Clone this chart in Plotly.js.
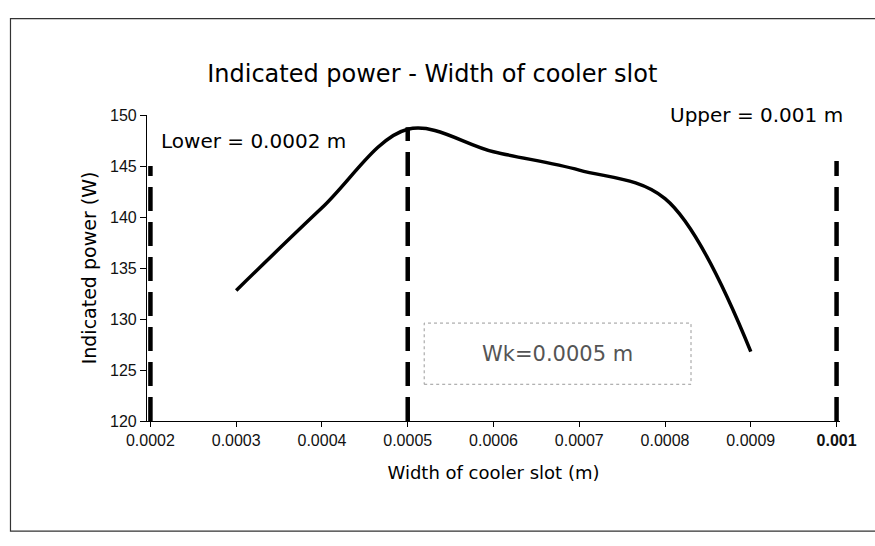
<!DOCTYPE html>
<html>
<head>
<meta charset="utf-8">
<script src="https://cdn.plot.ly/plotly-3.0.1.min.js"></script>
<style>
  html, body { margin: 0; padding: 0; background: #ffffff; }
  #chart { width: 875px; height: 546px; }
</style>
</head>
<body>
<div id="chart"></div>
<script>
// ---- data ----
const slotWidth = [0.0003, 0.0004, 0.0005, 0.0006, 0.0007, 0.0008, 0.0009];
const indicatedPower = [132.8, 140.9, 148.6, 146.4, 144.6, 141.8, 126.8];

const lowerX = [0.0002, 0.0002];
const lowerY = [120, 145];
const wkX = [0.0005, 0.0005];
const wkY = [120, 148.8];
const upperX = [0.001, 0.001];
const upperY = [120, 145.5];

const xTickVals = [0.0002, 0.0003, 0.0004, 0.0005, 0.0006, 0.0007, 0.0008, 0.0009, 0.001];
const xTickText = ["0.0002", "0.0003", "0.0004", "0.0005", "0.0006", "0.0007", "0.0008", "0.0009", "<b>0.001</b>"];
const yTickVals = [120, 125, 130, 135, 140, 145, 150];

const titleText = "Indicated power - Width of cooler slot";
const xTitle = "Width of cooler slot (m)";
const yTitle = "Indicated power (W)";
const lowerLabel = "Lower = 0.0002 m";
const upperLabel = "Upper = 0.001 m";
const wkLabel = "Wk=0.0005 m";

// ---- chart ----
const dashLine = {color: "#000000", width: 4.5, dash: "24px,11px"};

const traces = [
  {x: slotWidth, y: indicatedPower, type: "scatter", mode: "lines",
   line: {color: "#000000", width: 3.5, shape: "spline", smoothing: 1.0},
   showlegend: false, hoverinfo: "x+y"},
  {x: lowerX, y: lowerY, type: "scatter", mode: "lines", line: dashLine, showlegend: false},
  {x: wkX, y: wkY, type: "scatter", mode: "lines", line: dashLine, showlegend: false},
  {x: upperX, y: upperY, type: "scatter", mode: "lines", line: dashLine, showlegend: false}
];

const TF = "DejaVu Sans, sans-serif";
const NF = "Liberation Sans, Arial, sans-serif";

const layout = {
  width: 875, height: 546,
  paper_bgcolor: "#ffffff", plot_bgcolor: "#ffffff",
  margin: {l: 147, r: 35, t: 115, b: 125, pad: 0},
  showlegend: false,
  title: {text: titleText, font: {family: TF, size: 24, color: "#000000"},
          x: 0.494, xref: "container", xanchor: "center", y: 0.866, yref: "container", yanchor: "middle"},
  xaxis: {
    range: [0.000196, 0.001004], tickmode: "array", tickvals: xTickVals, ticktext: xTickText,
    showgrid: false, zeroline: false, showline: true, linecolor: "#000000", linewidth: 1.2,
    ticks: "outside", ticklen: 5, tickcolor: "#000000", tickwidth: 1,
    tickfont: {family: NF, size: 16, color: "#111111"},
    title: {text: xTitle, font: {family: TF, size: 18, color: "#000000"}, standoff: 18}
  },
  yaxis: {
    range: [120, 150], tickmode: "array", tickvals: yTickVals,
    showgrid: false, zeroline: false, showline: true, linecolor: "#000000", linewidth: 1.2,
    ticks: "outside", ticklen: 6, tickcolor: "#000000", tickwidth: 1,
    tickfont: {family: NF, size: 16, color: "#111111"},
    title: {text: yTitle, font: {family: TF, size: 19, color: "#000000"}, standoff: 8}
  },
  shapes: [
    {type: "rect", xref: "paper", yref: "paper", x0: -0.197, x1: 1.08, y0: -0.36, y1: 1.315,
     line: {color: "#333333", width: 1.2}, layer: "below"},
    {type: "rect", xref: "paper", yref: "paper", x0: 0.40, x1: 0.785, y0: 0.12, y1: 0.32,
     line: {color: "#9a9a9a", width: 1, dash: "dot"}}
  ],
  annotations: [
    {text: lowerLabel, xref: "paper", yref: "paper", x: 0.017, y: 0.915, xanchor: "left", yanchor: "middle",
     showarrow: false, font: {family: TF, size: 20, color: "#000000"}},
    {text: upperLabel, xref: "paper", yref: "paper", x: 1.007, y: 1.0, xanchor: "right", yanchor: "middle",
     showarrow: false, font: {family: TF, size: 20, color: "#000000"}},
    {text: wkLabel, xref: "paper", yref: "paper", x: 0.592, y: 0.22, xanchor: "center", yanchor: "middle",
     showarrow: false, font: {family: TF, size: 21, color: "#555555"}}
  ]
};

Plotly.newPlot("chart", traces, layout, {displayModeBar: false, responsive: false});
</script>
</body>
</html>
